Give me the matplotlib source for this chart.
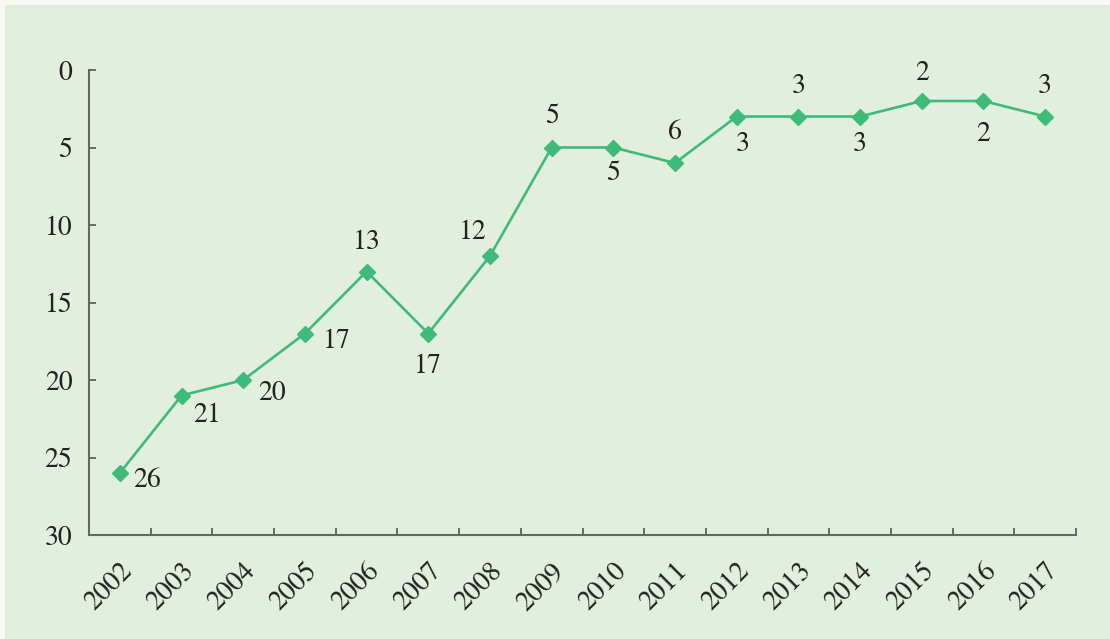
import matplotlib.pyplot as plt
from matplotlib.patches import Rectangle

years = ['2002', '2003', '2004', '2005', '2006', '2007', '2008', '2009',
         '2010', '2011', '2012', '2013', '2014', '2015', '2016', '2017']
ranks = [26, 21, 20, 17, 13, 17, 12, 5, 5, 6, 3, 3, 3, 2, 2, 3]

# where each value label sits, in pixels from its point
label_offsets = [(27, -7), (26, -20), (29, -13), (32, -8), (0, 29), (0, -33),
                 (-17, 24), (0, 31), (0, -26), (0, 31), (6, -28), (0, 30),
                 (0, -28), (0, 28), (0, -33), (0, 30)]

green = '#3dbb78'
panel = '#e2efdf'

plt.rcParams['font.family'] = 'STIXGeneral'

fig = plt.figure(figsize=(11.1, 6.39), dpi=100)
fig.patch.set_facecolor('#f6faf3')
fig.patches.append(Rectangle((5 / 1110, 0), 1, 1 - 5 / 639, transform=fig.transFigure,
                             facecolor=panel, edgecolor='none', zorder=-1))

ax = fig.add_axes([89 / 1110, 1 - 535 / 639, 987 / 1110, 465 / 639])
ax.set_zorder(2)
ax.set_facecolor('none')

x = list(range(len(years)))
ax.plot(x, ranks, color=green, lw=1.9, marker='D', ms=8, zorder=3, clip_on=False)

for xi, v, (dx, dy) in zip(x, ranks, label_offsets):
    ax.annotate(str(v), (xi, v), xytext=(dx, dy), textcoords='offset pixels',
                ha='center', va='center', fontsize=20, color='#222222')

ax.set_ylim(30, 0)
ax.set_yticks(range(0, 31, 5))
ax.set_xlim(-0.5, len(years) - 0.5)
ax.set_xticks(x)
ax.set_xticklabels(years, rotation=45, ha='right', rotation_mode='anchor')
ax.set_xticks([i - 0.5 for i in range(len(years) + 1)], minor=True)

ax.tick_params(axis='x', which='major', length=0, pad=17, labelsize=20, labelcolor='#222222')
ax.tick_params(axis='x', which='minor', direction='in', length=5, width=1.2, color='#555555')
ax.tick_params(axis='y', direction='in', length=5, width=1.2, color='#555555',
               pad=12, labelsize=20, labelcolor='#222222')

for side in ['top', 'right']:
    ax.spines[side].set_visible(False)
for side in ['left', 'bottom']:
    ax.spines[side].set_color('#666666')
    ax.spines[side].set_linewidth(1.5)

plt.savefig('out.png', dpi=100, facecolor=fig.get_facecolor())
